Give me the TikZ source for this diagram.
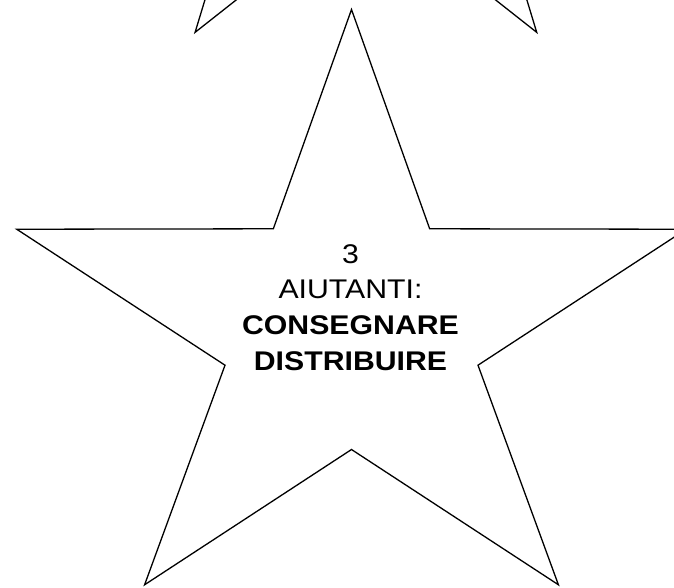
\documentclass[tikz,border=0pt]{standalone}
\usepackage{fontspec}
\newfontfamily\starfont[FakeStretch=1.12]{Liberation Sans}
\definecolor{starLine}{HTML}{000000}
\definecolor{pageBg}{HTML}{FFFFFF}
\usetikzlibrary{calc}

\begin{document}
\begin{tikzpicture}[x=1pt, y=1pt,
    starline/.style={draw=starLine, line width=1.3pt, line join=miter}]
  \path[fill=pageBg, use as bounding box] (0,0) rectangle (674,587);
  \clip (0,0) rectangle (674,587);
  % star above, only its two lower points show
  \coordinate (upperCentre) at (365.9,810.3);
  \draw[starline, shift={(upperCentre)}]
    (90:290.6pt and 316pt) -- (126:110pt and 121pt) -- (162:290.6pt and 316pt) -- (198:110pt and 121pt)
    -- (234:290.6pt and 316pt) -- (270:110pt and 121pt) -- (306:290.6pt and 316pt) -- (342:110pt and 121pt)
    -- (18:290.6pt and 316pt) -- (54:110pt and 121pt) -- cycle;
  % main star
  \coordinate (mainCentre) at (351.5,259.5);
  \draw[starline, shift={(mainCentre)}]
    (90:352pt and 318pt) -- (126:133pt and 122pt) -- (162:352pt and 318pt) -- (198:133pt and 122pt)
    -- (234:352pt and 318pt) -- (270:133pt and 122pt) -- (306:352pt and 318pt) -- (342:133pt and 122pt)
    -- (18:352pt and 318pt) -- (54:133pt and 122pt) -- cycle;
  \node[font=\starfont\fontsize{27}{35.7}\selectfont, align=center, inner sep=0pt] (helpers) at (350.5,279.5)
    {3\\AIUTANTI:\\\textbf{CONSEGNARE}\\\textbf{DISTRIBUIRE}};
\end{tikzpicture}
\end{document}
